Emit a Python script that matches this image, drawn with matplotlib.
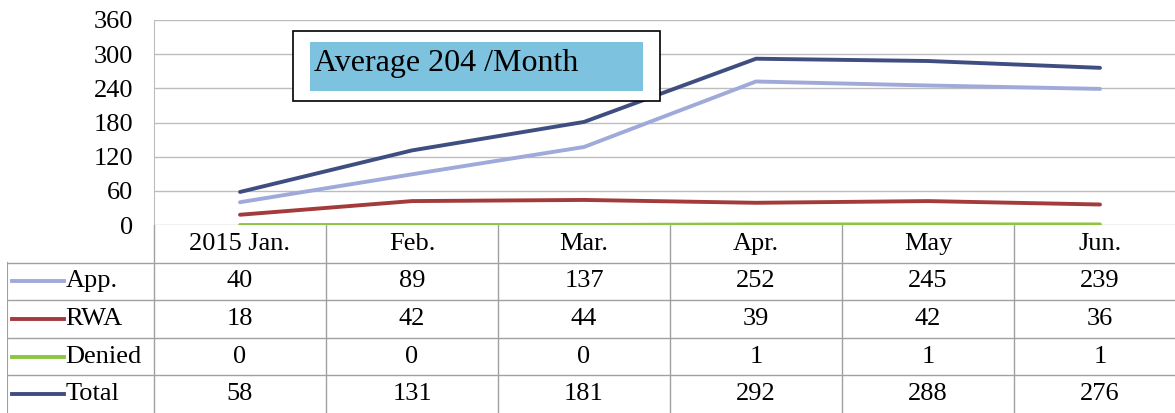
import matplotlib.pyplot as plt
from matplotlib.patches import Rectangle

# Dados
meses = ['2015 Jan.', 'Feb.', 'Mar.', 'Apr.', 'May', 'Jun.']
series = ['App.', 'RWA', 'Denied', 'Total']
app = [40, 89, 137, 252, 245, 239]
rwa = [18, 42, 44, 39, 42, 36]
denied = [0, 0, 0, 1, 1, 1]
total = [58, 131, 181, 292, 288, 276]
cores = ['#9FA9DA', '#A33B3C', '#8CC641', '#3E4E80']
yticks = [0, 60, 120, 180, 240, 300, 360]
media = 'Average 204 /Month'

plt.rcParams['font.family'] = ['Liberation Serif', 'DejaVu Serif']

W, H = 1175, 413
fig = plt.figure(figsize=(W / 100, H / 100), dpi=100)

def fx(px):
    return px / W

def fy(py):
    return 1 - py / H

col = 172.0
x0 = 154
xmax = -0.5 + (W - x0) / col
fs = 19

# Grafico de linhas
ax = fig.add_axes([fx(x0), fy(225), fx(W - x0), (225 - 20) / H])
valores = [app, rwa, denied, total]
xs = range(len(meses))
for v, c in zip(valores, cores):
    ax.plot(xs, v, color=c, lw=2.8, solid_capstyle='round', zorder=3)
ax.set_xlim(-0.5, xmax)
ax.set_ylim(0, 360)
ax.set_yticks(yticks)
ax.set_yticklabels([str(t) for t in yticks], fontsize=fs)
ax.set_xticks([])
ax.tick_params(axis='y', length=0, pad=15)
ax.grid(axis='y', color='#BDBDBD', lw=1)
for s in ['top', 'right', 'bottom']:
    ax.spines[s].set_visible(False)
ax.spines['left'].set_color('#BDBDBD')

# Tabela de dados
left_px = 7
tx0 = -0.5 - (x0 - left_px) / col
tab = fig.add_axes([fx(left_px), 0, fx(W - left_px), fy(225)])
tab.set_xlim(tx0, xmax)
tab.set_ylim(5, 0)
tab.axis('off')
gc = '#A0A0A0'
# linhas horizontais
for r in range(1, 5):
    tab.plot([tx0, xmax], [r, r], color=gc, lw=1)
# linhas verticais
tab.plot([tx0, tx0], [1, 5], color=gc, lw=1.5)
for i in range(len(meses) + 1):
    tab.plot([i - 0.5, i - 0.5], [0, 5], color=gc, lw=1)
for i, m in enumerate(meses):
    tab.text(i, 0.5, m, ha='center', va='center', fontsize=fs)
for r, (nome, v, c) in enumerate(zip(series, valores, cores)):
    y = r + 1.5
    tab.plot([tx0 + 0.03, tx0 + 0.33], [y, y], color=c, lw=2.8)
    tab.text(tx0 + 0.34, y, nome, ha='left', va='center', fontsize=fs)
    for i, val in enumerate(v):
        tab.text(i, y, str(val), ha='center', va='center', fontsize=fs)

# Caixa com a media
fig.patches.append(Rectangle((fx(293), fy(101)), fx(660 - 293), (101 - 31) / H,
                             transform=fig.transFigure, facecolor='white',
                             edgecolor='black', lw=1.2, zorder=5))
fig.patches.append(Rectangle((fx(310), fy(91)), fx(643 - 310), (91 - 42) / H,
                             transform=fig.transFigure, facecolor='#7DC2DE',
                             edgecolor='none', zorder=6))
fig.text(fx(314), fy(64), media, ha='left', va='center', fontsize=23, zorder=7)

plt.savefig('out.png', dpi=100)
